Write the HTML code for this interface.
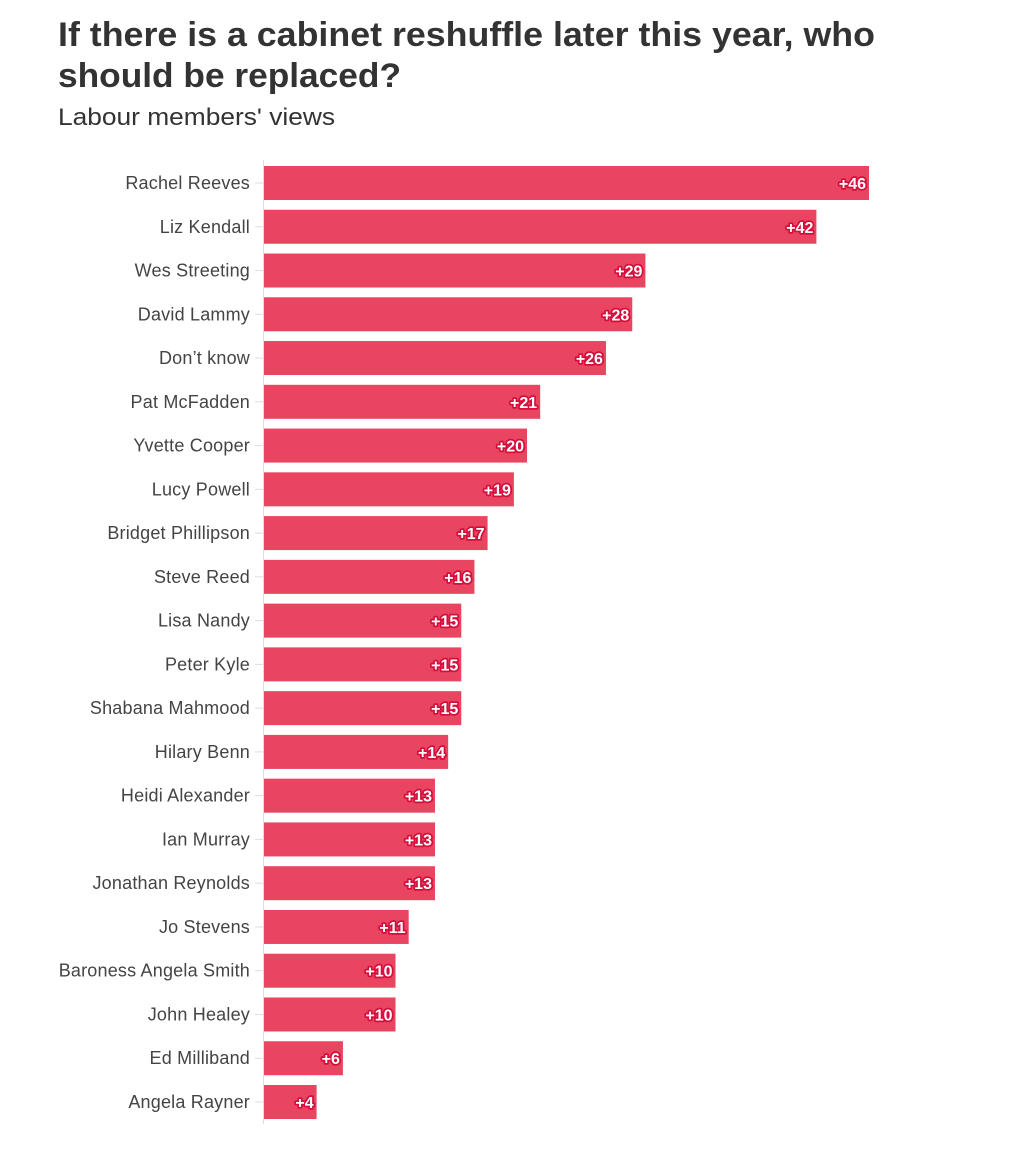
<!DOCTYPE html>
<html><head><meta charset="utf-8"><style>
html,body{margin:0;padding:0;background:#fff;}
svg{display:block;font-family:"Liberation Sans",sans-serif;}
</style></head><body>
<svg id="chart" width="1010" height="1156" viewBox="0 0 1010 1156">
<text x="58" y="46" font-size="34" font-weight="bold" fill="#333" textLength="817" lengthAdjust="spacingAndGlyphs">If there is a cabinet reshuffle later this year, who</text>
<text x="58" y="87" font-size="34" font-weight="bold" fill="#333" textLength="343" lengthAdjust="spacingAndGlyphs">should be replaced?</text>
<text x="58" y="125" font-size="24" fill="#333" textLength="277" lengthAdjust="spacingAndGlyphs">Labour members' views</text>
<line x1="263.5" y1="160" x2="263.5" y2="1124" stroke="#ddd" stroke-width="1"/>
<g id="bars"></g>
</svg>
<script>
const categories=["Rachel Reeves","Liz Kendall","Wes Streeting","David Lammy","Don’t know","Pat McFadden","Yvette Cooper","Lucy Powell","Bridget Phillipson","Steve Reed","Lisa Nandy","Peter Kyle","Shabana Mahmood","Hilary Benn","Heidi Alexander","Ian Murray","Jonathan Reynolds","Jo Stevens","Baroness Angela Smith","John Healey","Ed Milliband","Angela Rayner"];
const values=[46,42,29,28,26,21,20,19,17,16,15,15,15,14,13,13,13,11,10,10,6,4];
const x0=264, pxPerUnit=(869-264)/46;
function xScale(v){return x0+v*pxPerUnit;}
function yScale(i){return 183+i*((1102-183)/21);}
const g=document.getElementById('bars');
const NS="http://www.w3.org/2000/svg";
categories.forEach((c,i)=>{
  const y=yScale(i);
  const r=document.createElementNS(NS,'rect');
  r.setAttribute('x',x0);r.setAttribute('y',y-17);
  r.setAttribute('width',xScale(values[i])-x0);r.setAttribute('height',34);
  r.setAttribute('fill','#e94560');
  
  
  g.appendChild(r);
  const t=document.createElementNS(NS,'line');
  t.setAttribute('x1',255);t.setAttribute('x2',263);t.setAttribute('y1',y);t.setAttribute('y2',y);
  t.setAttribute('stroke','#ddd');
  
  
  g.appendChild(t);
  const l=document.createElementNS(NS,'text');
  l.setAttribute('x',250);l.setAttribute('y',y+6);l.setAttribute('text-anchor','end');
  l.setAttribute('font-size','18');l.setAttribute('fill','#444');
  l.setAttribute('letter-spacing','0.2');
  l.textContent=c;
  
  
  g.appendChild(l);
  const v=document.createElementNS(NS,'text');
  v.setAttribute('x',xScale(values[i])-3);v.setAttribute('y',y+6);v.setAttribute('text-anchor','end');
  v.setAttribute('font-size','16');v.setAttribute('font-weight','bold');v.setAttribute('fill','#fff');
  v.setAttribute('stroke','#d40f3c');v.setAttribute('stroke-width','3.5');v.setAttribute('paint-order','stroke');
  v.setAttribute('stroke-linejoin','round');
  v.textContent='+'+values[i];
  
  
  g.appendChild(v);
});
</script>
</body></html>
